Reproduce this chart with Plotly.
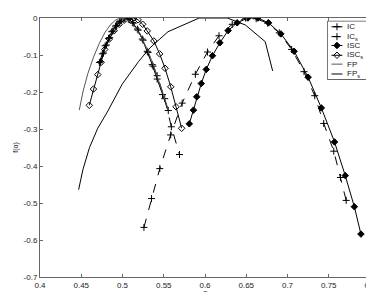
import plotly.graph_objects as go

# ---------------- data ----------------
fp_x = [0.4476, 0.452, 0.458, 0.465, 0.472, 0.479, 0.486, 0.492, 0.4976, 0.503, 0.509, 0.516, 0.523, 0.530, 0.537, 0.544, 0.550, 0.5557]
fp_y = [-0.249, -0.200, -0.150, -0.105, -0.068, -0.038, -0.017, -0.005, 0.0, -0.002, -0.010, -0.027, -0.052, -0.085, -0.124, -0.168, -0.210, -0.249]

ic_x = [0.472, 0.4755, 0.479, 0.483, 0.487, 0.4915, 0.4965, 0.502, 0.507, 0.512, 0.518, 0.524, 0.530, 0.536, 0.542, 0.5485, 0.5555]
ic_y = [-0.120, -0.097, -0.075, -0.055, -0.037, -0.022, -0.009, -0.002, -0.003, -0.012, -0.030, -0.057, -0.090, -0.126, -0.165, -0.207, -0.250]

ics_x = [0.4735, 0.477, 0.4805, 0.4845, 0.4885, 0.493, 0.498, 0.503, 0.508, 0.513, 0.519, 0.525, 0.531, 0.537, 0.542, 0.5512, 0.5592, 0.5691]
ics_y = [-0.118, -0.095, -0.073, -0.053, -0.035, -0.020, -0.008, -0.001, -0.004, -0.014, -0.033, -0.060, -0.093, -0.130, -0.156, -0.218, -0.294, -0.369]

ics2_x = [0.526, 0.5352, 0.5452, 0.5584, 0.5723, 0.5883, 0.603, 0.617, 0.633, 0.649, 0.662, 0.676, 0.690, 0.705, 0.720, 0.733, 0.7439, 0.7561, 0.7642, 0.7711]
ics2_y = [-0.566, -0.488, -0.407, -0.316, -0.230, -0.152, -0.092, -0.048, -0.017, 0.0, -0.002, -0.014, -0.040, -0.085, -0.145, -0.210, -0.285, -0.360, -0.431, -0.493]

isc_x = [0.581, 0.586, 0.590, 0.5955, 0.6015, 0.609, 0.618, 0.628, 0.639, 0.652, 0.664, 0.677, 0.692, 0.708, 0.725, 0.741, 0.757, 0.770, 0.781, 0.789]
isc_y = [-0.286, -0.249, -0.213, -0.177, -0.139, -0.102, -0.067, -0.034, -0.013, 0.0, 0.0, -0.013, -0.043, -0.090, -0.160, -0.243, -0.335, -0.426, -0.510, -0.584]

iscs_x = [0.4597, 0.4648, 0.4700, 0.4740, 0.4785, 0.4840, 0.4900, 0.4960, 0.5020, 0.5080, 0.5135, 0.5190, 0.5245, 0.5300, 0.5380, 0.5450, 0.5516, 0.5585, 0.5649, 0.5717]
iscs_y = [-0.236, -0.192, -0.153, -0.120, -0.085, -0.057, -0.034, -0.017, -0.006, 0.0, 0.0, -0.005, -0.017, -0.035, -0.062, -0.097, -0.136, -0.186, -0.240, -0.298]

fps_x = [0.4468, 0.452, 0.460, 0.470, 0.4816, 0.4996, 0.5197, 0.5332, 0.5552, 0.593, 0.627, 0.649, 0.673, 0.682]
fps_y = [-0.464, -0.410, -0.350, -0.298, -0.254, -0.179, -0.117, -0.081, -0.037, 0.0, 0.0, -0.019, -0.064, -0.143]

x_ticks = [0.4, 0.45, 0.5, 0.55, 0.6, 0.65, 0.7, 0.75, 0.8]
x_labels = ["0.4", "0.45", "0.5", "0.55", "0.6", "0.65", "0.7", "0.75", "0.8"]
y_ticks = [0, -0.1, -0.2, -0.3, -0.4, -0.5, -0.6, -0.7]
y_labels = ["0", "-0.1", "-0.2", "-0.3", "-0.4", "-0.5", "-0.6", "-0.7"]

legend_names = ["IC", "IC<sub>s</sub>", "ISC", "ISC<sub>s</sub>", "FP", "FP<sub>s</sub>"]

# ---------------- styles ----------------
blk = "black"
FONT = "Liberation Sans, Arial, sans-serif"
cross = dict(symbol="cross-thin-open", size=5, color=blk, line=dict(width=1, color=blk))
styles = [
    dict(mode="lines+markers", line=dict(color=blk, width=1), marker=cross),
    dict(mode="lines+markers", line=dict(color=blk, width=1, dash="dash"), marker=cross),
    dict(mode="lines+markers", line=dict(color=blk, width=1),
         marker=dict(symbol="diamond", size=5, color=blk, line=dict(width=1, color=blk))),
    dict(mode="lines+markers", line=dict(color=blk, width=1),
         marker=dict(symbol="diamond-open", size=5, color=blk, line=dict(width=1, color=blk))),
    dict(mode="lines", line=dict(color="#555555", width=1)),
    dict(mode="lines", line=dict(color=blk, width=1)),
]
series = [(ic_x, ic_y), (ics_x, ics_y), (isc_x, isc_y), (iscs_x, iscs_y), (fp_x, fp_y), (fps_x, fps_y)]

fig = go.Figure()
for (sx, sy), st, nm in zip(series, styles, legend_names):
    fig.add_trace(go.Scatter(x=sx, y=sy, name=nm, showlegend=False, **st))
fig.add_trace(go.Scatter(x=ics2_x, y=ics2_y, name="IC<sub>s</sub>", showlegend=False, **styles[1]))

# ---------------- manual compact legend (key glyphs on an auxiliary axis) ----------------
key_rows = [0.90, 0.733, 0.583, 0.417, 0.267, 0.10]
for row, st, nm in zip(key_rows, styles, legend_names):
    fig.add_trace(go.Scatter(x=[0.10, 0.37], y=[row, row], mode="lines", line=st["line"],
                             xaxis="x2", yaxis="y2", showlegend=False, hoverinfo="skip"))
    if "marker" in st:
        fig.add_trace(go.Scatter(x=[0.235], y=[row], mode="markers", marker=st["marker"],
                                 xaxis="x2", yaxis="y2", showlegend=False, hoverinfo="skip"))
    fig.add_annotation(x=0.44, y=row, xref="x2", yref="y2", text=nm, showarrow=False,
                       xanchor="left", yanchor="middle", font=dict(family=FONT, size=8, color="#222222"))
fig.add_shape(type="rect", xref="x2", yref="y2", x0=0, x1=1, y0=0, y1=1,
              line=dict(color=blk, width=1), layer="above")

axis_common = dict(showgrid=False, zeroline=False, showline=True, linecolor="#666666", linewidth=1,
                   mirror="ticks", ticks="inside", ticklen=3, tickcolor="#666666",
                   tickfont=dict(family=FONT, size=8, color="#222222"))

fig.update_layout(
    width=374, height=292,
    margin=dict(l=32, r=9, t=6, b=23),
    paper_bgcolor="white", plot_bgcolor="white",
    font=dict(family=FONT, size=8, color="#222222"),
    showlegend=False,
    xaxis=dict(range=[0.4, 0.8], tickvals=x_ticks, ticktext=x_labels, **axis_common),
    yaxis=dict(range=[-0.7, 0], tickvals=y_ticks, ticktext=y_labels, **axis_common),
    xaxis2=dict(domain=[0.871, 0.994], range=[0, 1], visible=False, anchor="y2", fixedrange=True),
    yaxis2=dict(domain=[0.761, 0.989], range=[0, 1], visible=False, anchor="x2", fixedrange=True),
    annotations=list(fig.layout.annotations) + [
        dict(text="α", x=0.5, y=-0.079, xref="paper", yref="paper", showarrow=False,
             xanchor="center", yanchor="bottom", borderpad=0,
             font=dict(family=FONT, size=7, color="#222222")),
        dict(text="f(α)", x=-0.075, y=0.5, xref="paper", yref="paper", showarrow=False, textangle=-90,
             xanchor="center", yanchor="middle", font=dict(family=FONT, size=7, color="#222222")),
    ],
)

fig.write_html("out.html")
